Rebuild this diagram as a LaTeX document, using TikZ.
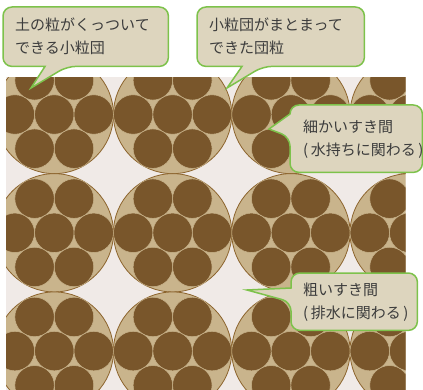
\documentclass[tikz,border=0pt]{standalone}
\usepackage{fontspec}
\setmainfont{Noto Sans CJK JP}
\usetikzlibrary{calc}
\definecolor{paper}{RGB}{240,234,231}
\definecolor{tan}{RGB}{201,180,140}
\definecolor{rim}{RGB}{140,100,45}
\definecolor{humus}{RGB}{121,86,43}
\definecolor{note}{RGB}{221,213,190}
\definecolor{leaf}{RGB}{125,194,75}
\definecolor{ink}{RGB}{60,60,60}
\pgfdeclarelayer{soilbed}
\pgfdeclarelayer{bubble}
\pgfsetlayers{soilbed,bubble,main}
\tikzset{
  grain/.style={fill=tan, draw=rim, line width=0.8pt},
  crumb/.style={fill=humus, draw=tan, line width=0.5pt},
  balloon/.style={fill=note, draw=leaf, line width=1.5pt, rounded corners=9pt},
  caption/.style={font=\fontsize{15}{23}\selectfont, text=ink, align=left,
    anchor=north west, inner xsep=12pt, inner ysep=0pt}
}
% one aggregate: big grain with seven crumbs packed inside
\newcommand{\clumpat}[2]{
  \begin{scope}[shift={(#1,#2)}]
    \filldraw[grain] (0,0) circle (59.15);
    \filldraw[crumb] (-19.72,-34.16) circle (19.72);
    \filldraw[crumb] (19.72,-34.16) circle (19.72);
    \filldraw[crumb] (-39.43,0) circle (19.72);
    \filldraw[crumb] (0,0) circle (19.72);
    \filldraw[crumb] (39.43,0) circle (19.72);
    \filldraw[crumb] (-19.72,34.16) circle (19.72);
    \filldraw[crumb] (19.72,34.16) circle (19.72);
  \end{scope}
}
% brackets with a little air inside (kerns, so the line never breaks)
\newcommand{\paren}[1]{(\kern2.5pt#1\kern2.5pt)}
\begin{document}
\begin{tikzpicture}[x=1pt,y=-1pt]
\useasboundingbox (0,0) rectangle (423,390);
\begin{pgfonlayer}{soilbed}
\clip (6,77.5) rectangle (405.5,390);
\fill[paper] (6,77.5) rectangle (405.5,390);
% row 1 of clumps
\clumpat{54.3}{114.5}
\clumpat{172.6}{114.5}
\clumpat{290.9}{114.5}
\clumpat{409.2}{114.5}
% row 2 of clumps
\clumpat{54.3}{232.8}
\clumpat{172.6}{232.8}
\clumpat{290.9}{232.8}
\clumpat{409.2}{232.8}
% row 3 of clumps
\clumpat{54.3}{351.1}
\clumpat{172.6}{351.1}
\clumpat{290.9}{351.1}
\clumpat{409.2}{351.1}
\end{pgfonlayer}
% pointer tips
\coordinate (soiltip) at (31,88);
\coordinate (aggrtip) at (227,88);
\coordinate (finetip) at (269,129);
\coordinate (coarsetip) at (247,290);
% labels
\node[caption, text width=141pt, minimum height=59pt] (soil) at (3,7) {土の粒がくっついて\\できる小粒団};
\node[caption, text width=106pt, minimum height=67pt, inner xsep=13pt] (fine) at (290,105) {細かいすき間\\\paren{水持ちに関わる}};
\node[caption, text width=143pt, minimum height=59pt] (aggr) at (197,7) {小粒団がまとまって\\できた団粒};
\node[caption, text width=102pt, minimum height=57pt] (coarse) at (291,273) {粗いすき間\\\paren{排水に関わる}};
% balloons behind the labels
\begin{pgfonlayer}{bubble}
\draw[balloon] (soil.north) -- (soil.north east) -- (soil.south east)
  -- ($(soil.south west)+(64,0)$) [sharp corners] -- (soiltip)
  -- ($(soil.south west)+(42,0)$) [rounded corners=9pt] -- (soil.south west)
  -- (soil.north west) -- cycle;
\draw[balloon] (aggr.north) -- (aggr.north east) -- (aggr.south east)
  -- ($(aggr.south west)+(66,0)$) [sharp corners] -- (aggrtip)
  -- ($(aggr.south west)+(45,0)$) [rounded corners=9pt] -- (aggr.south west)
  -- (aggr.north west) -- cycle;
\draw[balloon] (fine.north) -- (fine.north east) -- (fine.south east)
  -- (fine.south west) -- ($(fine.north west)+(0,32)$) [sharp corners] -- (finetip)
  -- ($(fine.north west)+(0,9)$) [rounded corners=9pt] -- (fine.north west) -- cycle;
\draw[balloon] (coarse.north) -- (coarse.north east) -- (coarse.south east)
  -- (coarse.south west) -- ($(coarse.north west)+(0,29)$) [sharp corners] -- (coarsetip)
  -- ($(coarse.north west)+(0,15)$) [rounded corners=9pt] -- (coarse.north west) -- cycle;
\end{pgfonlayer}
\end{tikzpicture}
\end{document}
